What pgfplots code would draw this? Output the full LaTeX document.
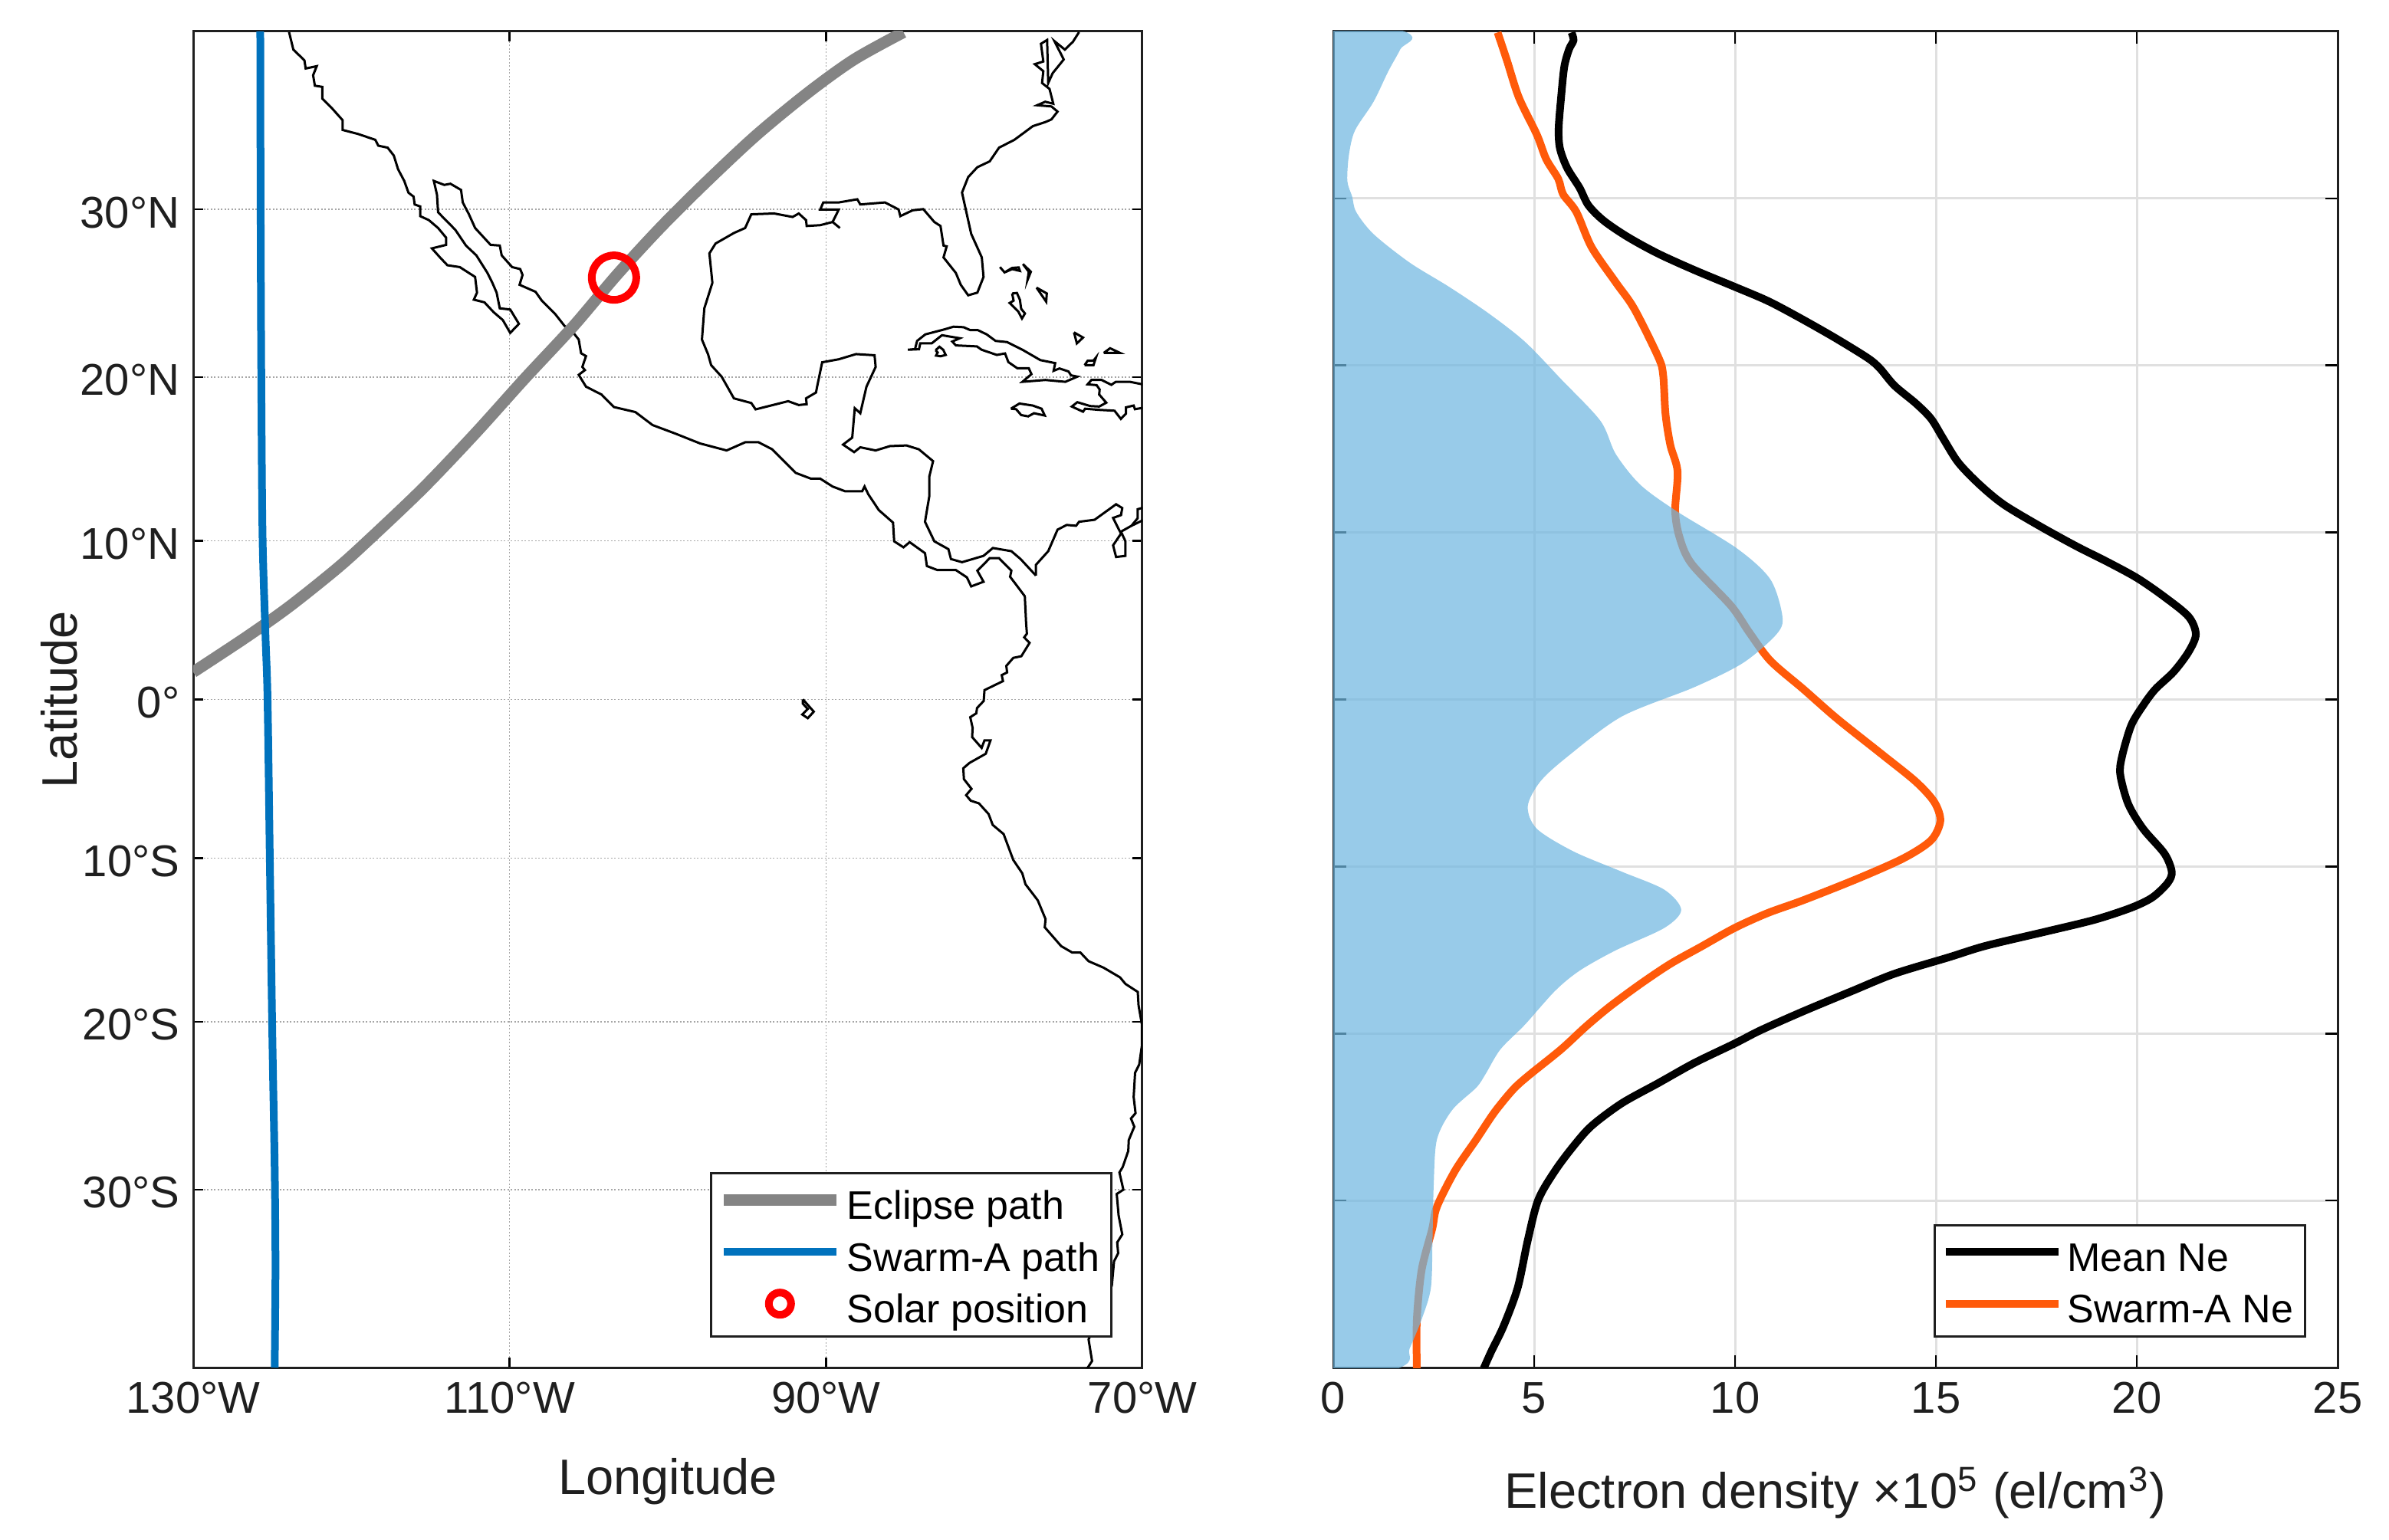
\documentclass[border=0pt]{standalone}
\usepackage{fontspec}
\setmainfont{Liberation Sans}
\usepackage{pgfplots}
\pgfplotsset{compat=1.18}
\definecolor{txt}{gray}{0.12}
\definecolor{eclipse}{HTML}{848484}
\definecolor{swarm}{HTML}{0072BD}
\definecolor{ne}{HTML}{FF5A0A}
\definecolor{band}{HTML}{70B7E0}
\newcommand{\ticksize}{\fontsize{11.6}{13}\selectfont}
\newcommand{\labsize}{\fontsize{13}{15}\selectfont}
\newcommand{\legsize}{\fontsize{10.4}{12}\selectfont}
\pgfplotsset{
  panel/.style={
    scale only axis, height=348.6pt,
    axis line style={line width=0.6pt,txt},
    tick style={line width=0.5pt,black},
    tick align=inside,
    tick label style={font=\ticksize,text=txt},
    xticklabel style={yshift=-0.3pt},
    yticklabel style={yshift=-0.8pt},
    label style={font=\labsize,text=txt},
    legend cell align=left,
    legend style={font=\legsize,draw=txt,line width=0.6pt,fill=white,
      at={(0.9687,0.0224)},anchor=south east,
      inner xsep=1.8pt,inner ysep=3pt,row sep=4pt,
      nodes={inner xsep=1.3pt,inner ysep=0pt,text height=9pt,text depth=0.5pt}},
    legend image code/.code={\draw[#1] (0pt,0.8pt) -- (29.4pt,0.8pt);},
  },
  coast/.style={black,line width=0.6pt,forget plot},
}
\begin{document}
\begin{tikzpicture}
\useasboundingbox (0,0) rectangle (623.2pt,401.6pt);
% map panel, latitude axis is projected so the ticks are not evenly spaced
\begin{axis}[panel,at={(50.4pt,44.8pt)},anchor=south west,width=247.6pt,
  xmin=-130,xmax=-70,ymin=-40,ymax=40,
  xtick={-130,-110,-90,-70},xticklabels={130°W,110°W,90°W,70°W},
  ytick={-29.35,-19.3,-9.5,0,9.5,19.3,29.35},
  yticklabels={30°S,20°S,10°S,0°,10°N,20°N,30°N},
  major tick length=2.6pt,
  xmajorgrids,ymajorgrids,
  grid style={gray!70,line width=0.3pt,dash pattern=on 0.4pt off 0.5pt},
  xlabel={Longitude},ylabel={Latitude},
  xlabel style={at={(axis description cs:0.5,-0.0947)},anchor=base},
  ylabel style={at={(axis description cs:-0.141,0.5)},anchor=center},
]
% Pacific coast, Baja, Central America, South America west
\addplot[coast] coordinates {(-123.94,39.96)(-123.67,38.91)(-122.97,38.27)(-122.89,37.78)(-122.19,37.92)(-122.42,37.38)(-122.31,36.75)(-121.84,36.68)(-121.84,35.98)(-121.22,35.39)(-120.55,34.68)(-120.55,34.10)(-119.58,33.86)(-118.49,33.51)(-118.30,33.16)(-117.71,33.04)(-117.32,32.57)(-117.05,31.75)(-116.66,31.05)(-116.39,30.34)(-116.07,30.11)(-116.00,29.64)(-115.65,29.52)(-115.65,28.94)(-115.10,28.70)(-114.52,28.23)(-114.01,27.65)(-114.01,27.22)(-114.91,27.01)(-114.40,26.47)(-113.93,26.00)(-113.15,25.89)(-112.18,25.30)(-112.06,24.36)(-112.26,23.94)(-111.59,23.78)(-111.01,23.19)(-110.43,22.72)(-109.96,21.95)(-109.41,22.49)(-109.96,23.35)(-110.62,23.42)(-110.82,24.36)(-111.09,24.95)(-111.40,25.54)(-112.10,26.59)(-112.76,27.18)(-113.43,28.12)(-114.52,29.17)(-114.59,30.23)(-114.79,31.05)(-114.13,30.81)(-113.74,30.88)(-113.07,30.51)(-112.96,29.76)(-112.57,29.05)(-112.18,28.23)(-111.20,27.22)(-110.62,27.18)(-110.50,26.59)(-109.84,25.89)(-109.33,25.77)(-109.18,25.42)(-109.37,24.83)(-108.36,24.41)(-107.97,23.89)(-107.11,23.07)(-106.53,22.37)(-106.02,22.02)(-105.63,21.55)(-105.48,20.73)(-105.17,20.56)(-105.40,19.91)(-105.24,19.72)(-105.63,19.44)(-105.17,18.73)(-104.19,18.26)(-103.41,17.51)(-102.05,17.21)(-100.96,16.43)(-99.52,15.92)(-97.96,15.33)(-96.28,14.91)(-95.11,15.40)(-94.26,15.40)(-93.40,14.98)(-91.92,13.57)(-90.95,13.22)(-90.36,13.22)(-89.58,12.75)(-88.80,12.47)(-87.71,12.47)(-87.56,12.75)(-87.32,12.28)(-86.66,11.34)(-85.76,10.59)(-85.69,9.47)(-85.10,9.11)(-84.71,9.42)(-83.74,8.76)(-83.62,7.99)(-82.96,7.75)(-81.79,7.75)(-81.09,7.31)(-80.82,6.77)(-80.04,7.05)(-80.43,7.71)(-79.65,8.46)(-79.06,8.46)(-78.28,7.71)(-78.36,7.35)(-77.43,6.18)(-77.35,4.59)(-77.30,3.94)(-77.47,3.72)(-77.13,3.39)(-77.65,2.59)(-78.16,2.49)(-78.60,2.01)(-78.55,1.62)(-78.89,1.46)(-78.81,1.10)(-79.98,0.56)(-80.03,-0.09)(-80.45,-0.51)(-80.50,-0.83)(-80.88,-1.06)(-80.73,-1.70)(-80.76,-2.25)(-80.16,-2.90)(-79.98,-2.45)(-79.60,-2.45)(-79.90,-3.25)(-80.93,-3.80)(-81.32,-4.12)(-81.28,-4.77)(-80.80,-5.35)(-81.14,-5.73)(-80.85,-6.06)(-80.33,-6.22)(-79.72,-6.86)(-79.46,-7.51)(-78.77,-8.06)(-78.16,-9.61)(-77.59,-10.41)(-77.39,-11.06)(-76.61,-12.03)(-76.12,-13.15)(-76.17,-13.64)(-75.13,-14.77)(-74.44,-15.15)(-73.92,-15.15)(-73.40,-15.67)(-72.45,-16.06)(-71.41,-16.64)(-71.07,-17.03)(-70.29,-17.51)(-70.24,-18.32)(-70.03,-19.45)(-70.03,-20.74)(-70.20,-21.86)(-70.46,-22.35)(-70.55,-23.80)(-70.43,-24.77)(-70.72,-25.09)(-70.51,-25.58)(-70.86,-26.38)(-70.89,-27.03)(-71.24,-27.99)(-71.45,-28.32)(-71.20,-29.35)(-71.62,-29.61)(-71.50,-30.90)(-71.27,-32.03)(-71.59,-32.51)(-71.53,-33.16)(-71.79,-33.64)(-71.93,-35.10)(-73.40,-38.32)(-73.18,-39.61)(-73.58,-40.19)};
% Caribbean side of Central America, Gulf of Mexico, US east coast
\addplot[coast] coordinates {(-76.73,7.42)(-77.70,8.41)(-78.28,8.88)(-79.45,9.07)(-80.04,8.60)(-81.40,8.22)(-82.10,8.41)(-82.26,9.00)(-83.15,9.47)(-83.74,10.64)(-83.47,12.16)(-83.47,13.34)(-83.23,14.27)(-84.13,14.98)(-84.91,15.21)(-85.96,15.17)(-86.86,14.91)(-87.83,15.10)(-88.22,14.81)(-88.92,15.26)(-88.34,15.68)(-88.18,17.44)(-87.83,17.14)(-87.44,18.73)(-86.86,19.91)(-86.93,20.61)(-88.10,20.68)(-89.19,20.37)(-90.24,20.19)(-90.56,18.73)(-90.63,18.38)(-91.26,18.03)(-91.22,17.68)(-91.72,17.63)(-92.39,17.86)(-94.45,17.37)(-94.72,17.75)(-95.82,18.03)(-96.59,19.32)(-97.26,20.02)(-97.45,20.66)(-97.84,21.55)(-97.69,23.42)(-97.18,24.95)(-97.37,26.71)(-96.98,27.30)(-95.82,27.93)(-95.11,28.23)(-94.72,29.05)(-93.28,29.10)(-92.11,28.89)(-91.72,29.10)(-91.26,28.70)(-91.22,28.35)(-90.36,28.40)(-89.58,28.59)(-89.12,28.23)(-89.58,28.59)(-89.19,29.34)(-90.36,29.34)(-90.17,29.76)(-89.19,29.76)(-88.02,29.95)(-87.83,29.64)(-86.27,29.76)(-85.41,29.34)(-85.30,28.94)(-84.52,29.29)(-83.85,29.36)(-83.15,28.59)(-82.76,28.35)(-82.57,27.18)(-82.37,27.13)(-82.57,26.47)(-81.79,25.54)(-81.48,24.83)(-81.01,24.20)(-80.43,24.36)(-80.04,25.30)(-80.15,26.47)(-80.82,27.88)(-81.40,30.35)(-81.01,31.28)(-80.43,31.87)(-79.65,32.22)(-79.06,33.04)(-78.09,33.51)(-76.92,34.33)(-76.14,34.57)(-75.75,34.73)(-75.36,35.20)(-75.75,35.51)(-76.65,35.58)(-76.14,35.79)(-75.63,35.67)(-75.87,36.56)(-76.34,36.91)(-76.26,37.62)(-76.80,38.04)(-76.26,38.20)(-76.41,39.26)(-76.02,39.49)(-75.95,36.91)(-75.67,37.50)(-74.97,38.32)(-75.56,39.42)(-74.90,38.91)(-74.39,39.38)(-74.00,39.96)};
% north coast of South America with Lake Maracaibo
\addplot[coast] coordinates {(-76.73,7.42)(-76.73,8.06)(-75.95,8.88)(-75.36,10.17)(-74.78,10.45)(-74.19,10.40)(-74.00,10.64)(-73.02,10.76)(-71.66,11.69)(-71.27,11.46)(-71.35,11.04)(-71.85,10.87)(-71.35,9.93)(-71.85,9.23)(-71.66,8.53)(-71.07,8.60)(-71.07,9.47)(-71.35,10.05)(-70.69,10.40)(-69.91,10.76)};
\addplot[coast] coordinates {(-69.91,11.50)(-70.30,11.39)(-70.30,10.85)(-70.69,10.40)};
% islands
\addplot[coast] coordinates {(-84.82,20.94)(-84.37,20.98)(-84.24,21.47)(-83.72,21.86)(-82.51,22.16)(-81.94,22.32)(-81.30,22.29)(-80.89,22.12)(-80.41,22.12)(-79.84,21.86)(-79.28,21.47)(-78.55,21.40)(-77.58,20.94)(-76.45,20.32)(-75.51,20.14)(-75.61,19.68)(-75.24,19.82)(-74.67,19.64)(-74.51,19.41)(-74.11,19.33)(-74.87,19.02)(-76.13,19.13)(-77.58,19.02)(-77.01,19.48)(-77.18,19.83)(-77.90,19.83)(-78.47,20.20)(-78.68,20.72)(-79.20,20.63)(-80.16,20.94)(-80.46,21.14)(-81.78,21.20)(-82.02,21.43)(-81.54,21.63)(-82.67,21.81)(-83.32,21.32)(-84.04,21.32)(-84.12,20.97)(-84.82,20.94)};
\addplot[coast] coordinates {(-83.07,20.91)(-82.83,21.12)(-82.59,20.94)(-82.43,20.63)(-82.75,20.55)(-83.04,20.59)(-82.94,20.78)(-83.07,20.91)};
\addplot[coast] coordinates {(-78.31,17.41)(-77.77,17.72)(-76.93,17.60)(-76.37,17.41)(-76.17,17.00)(-76.85,17.14)(-77.22,16.95)(-77.66,17.03)(-77.98,17.38)(-78.31,17.41)};
\addplot[coast] coordinates {(-69.99,18.87)(-70.79,19.02)(-71.68,19.02)(-71.96,18.84)(-72.57,19.13)(-73.22,19.13)(-73.46,18.87)(-72.89,18.82)(-72.70,18.56)(-72.73,18.26)(-72.28,17.77)(-72.73,17.54)(-73.30,17.57)(-74.11,17.80)(-74.46,17.54)(-73.75,17.23)(-73.62,17.41)(-72.73,17.34)(-71.76,17.29)(-71.36,16.80)(-71.04,17.11)(-71.04,17.49)(-70.55,17.60)(-70.47,17.38)(-69.99,17.46)};
\addplot[coast] coordinates {(-79.00,25.89)(-78.71,25.57)(-78.23,25.84)(-77.82,25.87)(-77.74,25.66)(-78.23,25.77)(-78.71,25.57)};
\addplot[coast] coordinates {(-77.55,26.07)(-77.05,25.61)(-77.26,25.11)(-77.18,25.61)(-77.55,26.07)};
\addplot[coast] coordinates {(-78.23,24.31)(-77.93,24.34)(-77.74,23.93)(-77.66,23.39)(-77.42,23.11)(-77.61,22.81)(-77.85,23.24)(-78.39,23.74)(-78.14,23.88)(-78.23,24.31)};
\addplot[coast] coordinates {(-76.69,24.66)(-76.04,24.31)(-76.08,23.82)(-76.69,24.66)};
\addplot[coast] coordinates {(-74.32,21.98)(-73.75,21.67)(-74.14,21.32)(-74.32,21.98)};
\addplot[coast] coordinates {(-72.44,20.75)(-72.04,21.03)(-71.41,20.75)(-72.44,20.75)};
\addplot[coast] coordinates {(-73.65,20.02)(-73.46,20.28)(-73.09,20.29)(-72.93,20.48)(-73.09,20.02)(-73.65,20.02)};
\addplot[coast] coordinates {(-91.46,0.01)(-90.77,-0.73)(-91.15,-1.12)(-91.50,-0.90)(-91.15,-0.57)(-91.46,-0.25)(-91.46,0.01)};
% eclipse path
\addplot[eclipse,line width=3pt,smooth,tension=0.5] coordinates {(-130,1.64)(-126.59,3.77)(-123.87,5.60)(-120.94,7.82)(-119.0,9.47)(-115.49,12.63)(-112.18,15.92)(-109.06,19.20)(-105.95,22.37)(-103.22,25.42)(-100.49,28.23)(-97.76,30.81)(-94.45,33.75)(-91.14,36.33)(-88.22,38.32)(-85.10,39.95)};
\addlegendentry{Eclipse path}
% swarm-a path
\addplot[swarm,line width=2pt,smooth,tension=0.5] coordinates {(-125.76,40)(-125.74,30)(-125.70,20)(-125.62,10)(-125.43,3.8)(-125.30,0)(-125.15,-10)(-125.0,-20)(-124.85,-28)(-124.80,-34)(-124.85,-40)};
\addlegendentry{Swarm-A path}
% solar position
\addplot[only marks,mark=o,mark size=5.8pt,mark options={red,line width=2pt},
  legend image code/.code={\draw[red,line width=2pt] (14.7pt,0.8pt) circle (2.9pt);}]
  coordinates {(-103.4,25.26)};
\addlegendentry{Solar position}
\end{axis}
% electron density panel
\begin{axis}[panel,at={(347.8pt,44.8pt)},anchor=south west,width=262pt,
  xmin=0,xmax=25,ymin=-40,ymax=40,
  xtick={0,5,10,15,20,25},xticklabels={0,5,10,15,20,25},
  ytick={-30,-20,-10,0,10,20,30},yticklabels={},
  major tick length=3.3pt,
  xmajorgrids,ymajorgrids,
  grid style={black!12,line width=0.6pt},
  xlabel={Electron density ×10\textsuperscript{5} (el/cm\textsuperscript{3})},
  xlabel style={at={(axis description cs:0.5,-0.105)},anchor=base},
]
\addplot[black,line width=2pt,smooth,tension=0.5] coordinates {(5.93,39.94)(5.98,39.47)(5.87,38.94)(5.75,37.89)(5.67,36.04)(5.61,34.20)(5.64,33.01)(5.82,31.83)(6.13,30.64)(6.35,29.59)(6.73,28.67)(7.33,27.69)(8.09,26.69)(8.99,25.71)(9.99,24.71)(10.81,23.87)(11.56,22.92)(12.47,21.68)(13.30,20.45)(13.60,19.84)(13.97,18.79)(14.50,17.73)(14.88,16.81)(15.18,15.63)(15.56,14.18)(16.09,12.86)(16.69,11.67)(17.60,10.36)(18.50,9.17)(19.26,8.25)(20.01,7.27)(20.69,6.14)(21.29,4.96)(21.47,3.90)(21.29,2.85)(20.92,1.66)(20.46,0.61)(20.16,-0.35)(19.86,-1.56)(19.63,-3.44)(19.59,-4.52)(19.79,-6.27)(20.16,-7.75)(20.69,-9.23)(20.87,-10.31)(20.77,-10.98)(20.39,-11.85)(19.86,-12.47)(18.95,-13.19)(17.75,-13.89)(16.24,-14.75)(15.33,-15.43)(13.97,-16.42)(12.92,-17.45)(11.71,-18.66)(10.65,-19.79)(9.99,-20.60)(8.99,-21.76)(8.09,-22.97)(7.18,-24.18)(6.43,-25.53)(5.98,-26.74)(5.52,-28.22)(5.10,-29.97)(4.84,-32.39)(4.59,-35.22)(4.24,-37.51)(3.94,-39.0)(3.74,-40.07)};
\addlegendentry{Mean Ne}
\addplot[ne,line width=2pt,smooth,tension=0.5] coordinates {(4.09,39.94)(4.32,38.28)(4.62,36.04)(5.07,33.80)(5.30,32.35)(5.60,31.17)(5.72,30.25)(6.05,29.19)(6.43,27.08)(7.03,24.98)(7.49,23.40)(8.09,20.50)(8.21,19.44)(8.27,17.07)(8.39,15.23)(8.57,13.65)(8.51,11.28)(8.62,9.70)(8.92,8.12)(9.90,5.61)(10.35,4.03)(10.88,2.32)(11.71,0.60)(12.54,-1.15)(13.67,-3.31)(14.50,-4.92)(14.96,-6.14)(15.11,-7.27)(14.88,-8.43)(14.20,-9.50)(13.07,-10.71)(11.71,-12.01)(10.81,-12.79)(9.99,-13.68)(9.15,-14.81)(8.39,-15.83)(7.64,-17.04)(6.88,-18.39)(6.28,-19.60)(5.67,-20.95)(4.84,-22.56)(4.47,-23.37)(4.01,-24.72)(3.56,-26.34)(3.03,-28.22)(2.58,-30.37)(2.46,-31.72)(2.20,-34.15)(2.08,-37.11)(2.08,-40.07)};
\addlegendentry{Swarm-A Ne}
% shaded spread, on top of the lines as in the original
\addplot[draw=none,fill=band,fill opacity=0.72,forget plot,smooth,tension=0.5] coordinates {(-1,42)(1.83,39.94)(1.67,38.94)(1.37,37.62)(1.0,35.78)(0.54,34.07)(0.39,32.62)(0.35,31.04)(0.47,30.11)(0.57,29.19)(1.0,27.87)(1.90,26.16)(2.88,24.71)(3.86,23.13)(4.77,21.42)(5.67,19.18)(6.65,16.68)(7.03,14.70)(7.64,12.86)(8.54,11.28)(10.05,9.04)(10.88,7.19)(11.18,4.96)(11.03,3.90)(10.20,2.19)(8.99,0.74)(7.18,-1.02)(5.82,-3.44)(5.15,-4.92)(4.84,-6.40)(5.07,-7.75)(5.98,-9.10)(7.18,-10.31)(8.24,-11.39)(8.66,-12.60)(8.24,-13.68)(7.03,-15.02)(6.13,-16.24)(5.52,-17.45)(4.77,-19.47)(4.16,-20.95)(3.79,-22.43)(3.56,-23.24)(2.96,-24.58)(2.58,-26.34)(2.50,-29.03)(2.47,-32.26)(2.43,-35.22)(2.20,-37.11)(1.90,-38.86)(1.67,-40)(-1,-42)} \closedcycle;
\end{axis}
\end{tikzpicture}
\end{document}
